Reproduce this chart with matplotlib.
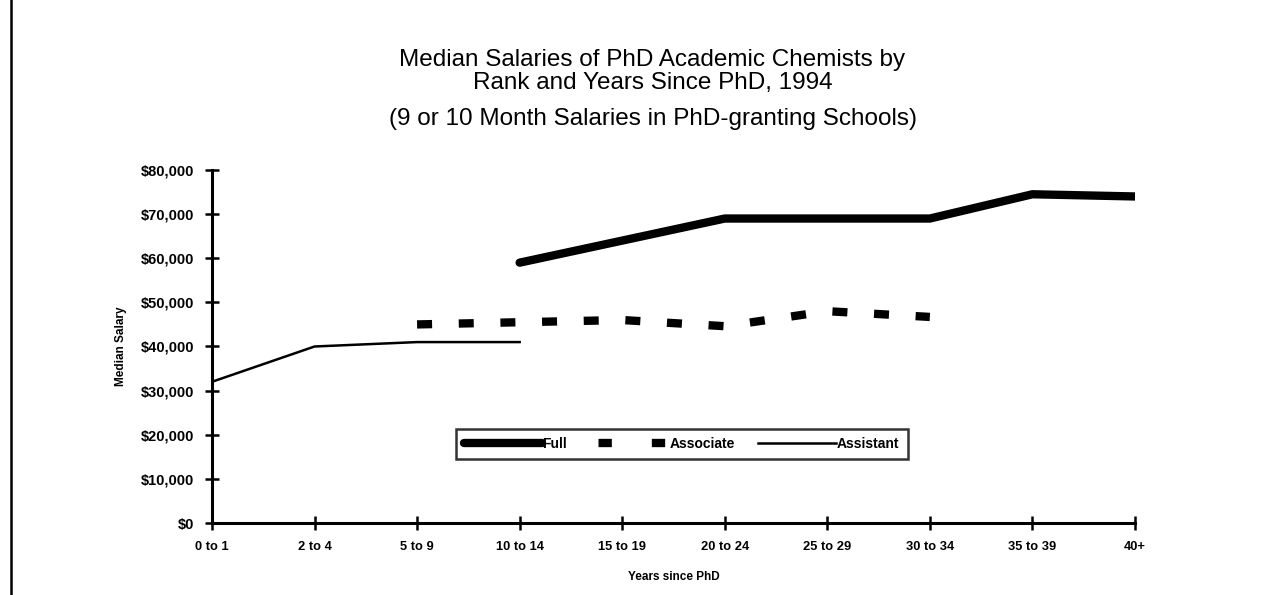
import matplotlib.pyplot as plt
from matplotlib.lines import Line2D
from matplotlib.ticker import FuncFormatter

plt.rcParams['font.family'] = ['Liberation Sans', 'DejaVu Sans']

years = ["0 to 1", "2 to 4", "5 to 9", "10 to 14", "15 to 19", "20 to 24",
         "25 to 29", "30 to 34", "35 to 39", "40+"]
full = [None, None, None, 59000, 64000, 69000, 69000, 69000, 74500, 74000]
associate = [None, None, 45000, 45500, 46000, 44600, 48000, 46700, None, None]
assistant = [32000, 40000, 41000, 41000, None, None, None, None, None, None]


def pts(vals):
    xs = [i for i, v in enumerate(vals) if v is not None]
    ys = [v for v in vals if v is not None]
    return xs, ys


fig = plt.figure(figsize=(12.67, 5.95), dpi=100)
ax = fig.add_axes([0.1673, 0.121, 0.7285, 0.5933])

x, y = pts(full)
l_full, = ax.plot(x, y, color='black', lw=6, solid_capstyle='round', label='Full')
x, y = pts(associate)
ax.plot(x, y, color='black', lw=6, dashes=(1.8, 3.2), dash_capstyle='butt')
x, y = pts(assistant)
l_asst, = ax.plot(x, y, color='black', lw=1.8, label='Assistant')

# legend proxy for the dashed series (the legend sample uses wider gaps)
l_assoc = Line2D([], [], color='black', lw=6, ls=(5.5, (1.6, 4.8)),
                 dash_capstyle='butt', label='Associate')

ax.set_xlim(0, 9)
ax.set_ylim(0, 80000)
ax.set_xticks(range(len(years)))
ax.set_xticklabels(years)
ax.set_yticks(range(0, 80001, 10000))
ax.yaxis.set_major_formatter(FuncFormatter(lambda v, p: "${:,.0f}".format(v)))
for s in ['top', 'right']:
    ax.spines[s].set_visible(False)
for s in ['left', 'bottom']:
    ax.spines[s].set_linewidth(2.2)
ax.tick_params(direction='inout', length=10, width=1.8, pad=8)
ax.tick_params(axis='y', labelsize=10.5)
ax.tick_params(axis='x', labelsize=9.3)
for lab in ax.get_xticklabels() + ax.get_yticklabels():
    lab.set_fontweight('bold')
ax.set_xlabel("Years since PhD", fontsize=8.5, fontweight='bold', labelpad=13)
ax.set_ylabel("Median Salary", fontsize=8.5, fontweight='bold', labelpad=10)

fig.text(0.515, 0.88, "Median Salaries of PhD Academic Chemists by\nRank and Years Since PhD, 1994",
         ha='center', va='center', fontsize=17.5, linespacing=1.1)
fig.text(0.515, 0.80, "(9 or 10 Month Salaries in PhD-granting Schools)",
         ha='center', va='center', fontsize=17.5)

leg = fig.legend(handles=[l_full, l_assoc, l_asst], loc='center',
                 bbox_to_anchor=(0.538, 0.254), ncol=3, frameon=True,
                 fancybox=False, handlelength=5.6, handletextpad=0.05, columnspacing=1.7,
                 prop={'size': 10, 'weight': 'bold'}, borderpad=0.6)
leg.get_frame().set_edgecolor('black')
leg.get_frame().set_linewidth(1.8)

fig.add_artist(Line2D([0.009, 0.009], [0, 1], color='black', lw=1.8))

fig.savefig("out.png", dpi=100)
